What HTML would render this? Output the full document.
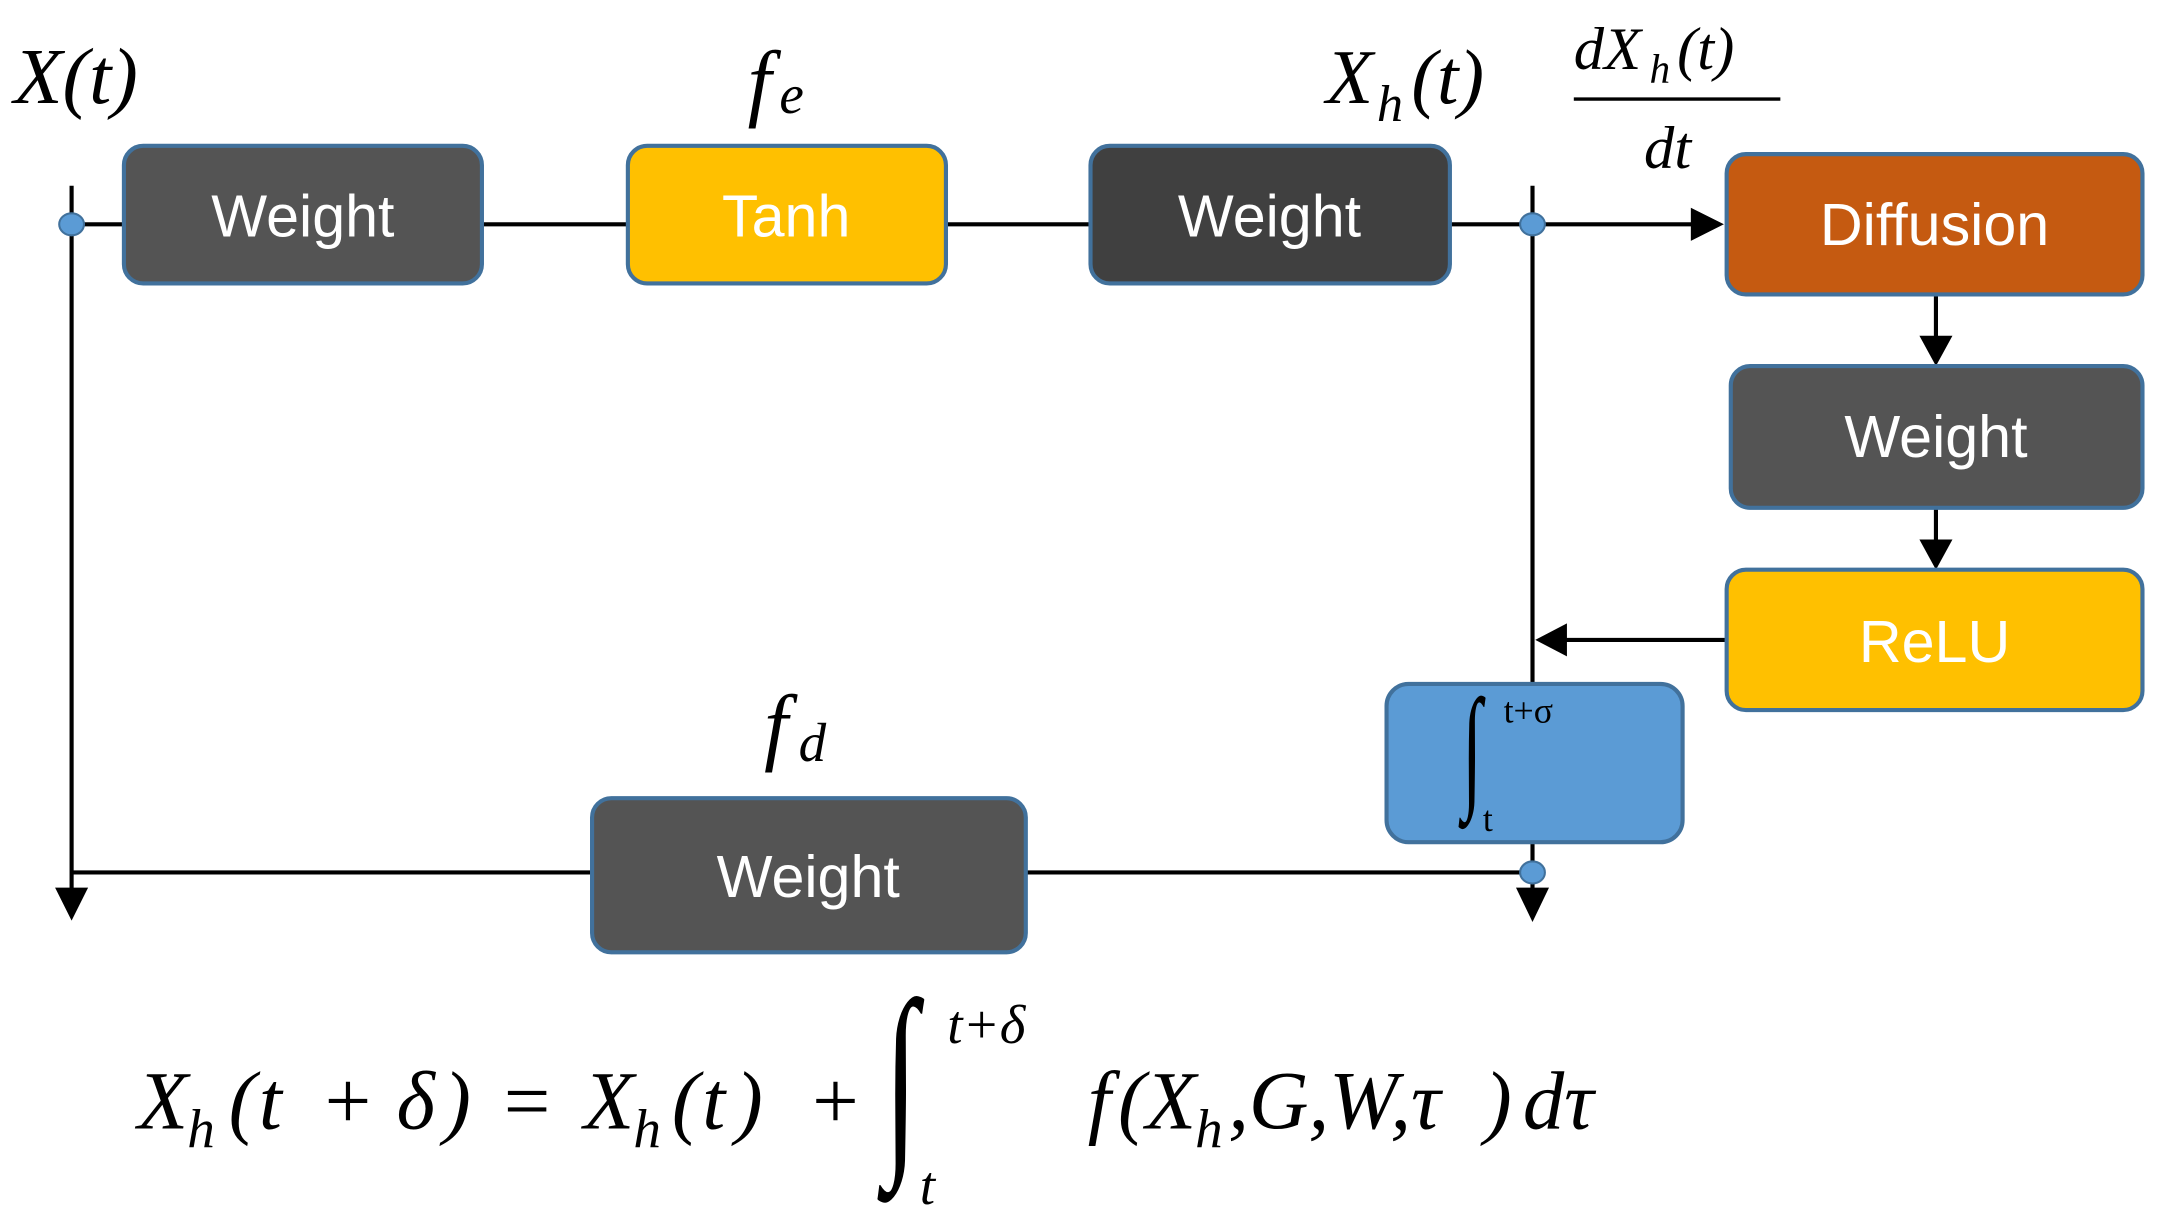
<!DOCTYPE html>
<html><head><meta charset="utf-8"><style>
html,body{margin:0;padding:0;background:#fff;}
svg{display:block}
.m{font-family:"Liberation Serif","DejaVu Serif",serif;font-style:italic;fill:#000}
.n{font-family:"Liberation Serif","DejaVu Serif",serif;fill:#000}
.b{font-family:"Liberation Sans","DejaVu Sans",sans-serif;fill:#fff;text-anchor:middle}
</style></head><body>
<svg width="2159" height="1222" viewBox="0 0 1568 888" preserveAspectRatio="none" xmlns="http://www.w3.org/2000/svg">
<g stroke="#000" stroke-width="3" fill="none">
<line x1="52" y1="135" x2="52" y2="650"/>
<line x1="52" y1="163" x2="1232" y2="163"/>
<line x1="1113" y1="135" x2="1113" y2="650"/>
<line x1="52" y1="634" x2="1113" y2="634"/>
<line x1="1406" y1="214" x2="1406" y2="248"/>
<line x1="1406" y1="369" x2="1406" y2="396"/>
<line x1="1254" y1="465" x2="1135" y2="465"/>
</g>
<g fill="#000">
<path d="M1228,151 L1252,163 L1228,175 z"/>
<path d="M40,645 L64,645 L52,669 z"/>
<path d="M1101,645 L1125,645 L1113,670 z"/>
<path d="M1394,244 L1418,244 L1406,266 z"/>
<path d="M1394,392 L1418,392 L1406,414 z"/>
<path d="M1138,453 L1138,477 L1115,465 z"/>
</g>
<g stroke="#41719c" stroke-width="3">
<rect x="90" y="106" width="260" height="100" rx="14" fill="#545454"/>
<rect x="456" y="106" width="231" height="100" rx="14" fill="#ffc000"/>
<rect x="792" y="106" width="261" height="100" rx="14" fill="#404040"/>
<rect x="1254" y="112" width="302" height="102" rx="14" fill="#c55a11"/>
<rect x="1257" y="266" width="299" height="103" rx="14" fill="#545454"/>
<rect x="1254" y="414" width="302" height="102" rx="14" fill="#ffc000"/>
<rect x="1007" y="497" width="215" height="115" rx="16" fill="#5b9bd5"/>
<rect x="430" y="580" width="315" height="112" rx="14" fill="#545454"/>
</g>
<g fill="#5b9bd5" stroke="#41719c" stroke-width="1.5">
<ellipse cx="52" cy="163" rx="9" ry="8"/>
<ellipse cx="1113" cy="163" rx="9" ry="8"/>
<ellipse cx="1113" cy="634" rx="9" ry="8"/>
</g>
<g class="b" font-size="43">
<text x="220" y="172">Weight</text>
<text x="571" y="172">Tanh</text>
<text x="922" y="172">Weight</text>
<text x="1405" y="178">Diffusion</text>
<text x="1406" y="332">Weight</text>
<text x="1405" y="481">ReLU</text>
<text x="587" y="652">Weight</text>
</g>
<text class="n" transform="translate(1062,576) scale(1,1.9)" font-size="52">∫</text>
<text class="n" x="1092" y="525" font-size="26">t+σ</text>
<text class="n" x="1077" y="604" font-size="26">t</text>
<text class="m" x="10" y="75" font-size="58">X(t)</text>
<text class="m" x="543" y="80" font-size="62">f</text><text class="m" x="566" y="82" font-size="40">e</text>
<text class="m" x="963" y="75" font-size="56">X</text><text class="m" x="1000" y="88" font-size="38">h</text><text class="m" x="1025" y="75" font-size="56">(t)</text>
<text class="m" x="1143" y="50" font-size="44">dX</text><text class="m" x="1198" y="60" font-size="30">h</text><text class="m" x="1218" y="50" font-size="44">(t)</text>
<line x1="1143" y1="72" x2="1293" y2="72" stroke="#000" stroke-width="2.5"/>
<text class="m" x="1194" y="122" font-size="44">dt</text>
<text class="m" x="555" y="548" font-size="62">f</text><text class="m" x="580" y="553" font-size="40">d</text>
<g class="m" font-size="60">
<text x="100" y="820">X</text><text x="136" y="834" font-size="40">h</text>
<text class="n" x="166" y="820">(</text><text x="188" y="820">t</text><text class="n" x="232" y="820">+</text><text x="288" y="820">δ</text><text class="n" x="322" y="820">)</text><text class="n" x="362" y="820">=</text>
<text x="424" y="820">X</text><text x="460" y="834" font-size="40">h</text>
<text class="n" x="488" y="820">(</text><text x="510" y="820">t</text><text class="n" x="534" y="820">)</text><text class="n" x="586" y="820">+</text>
<text class="n" transform="translate(642,833) scale(1,1.7)" font-size="90">∫</text>
<text x="688" y="758" font-size="40">t+δ</text>
<text x="668" y="875" font-size="40">t</text>
<text x="790" y="820">f</text><text class="n" x="812" y="820">(</text><text x="832" y="820">X</text><text x="868" y="834" font-size="40">h</text><text x="892" y="820">,G,W,τ</text><text class="n" x="1078" y="820">)</text><text x="1106" y="820">dτ</text>
</g>
</svg>
</body></html>
